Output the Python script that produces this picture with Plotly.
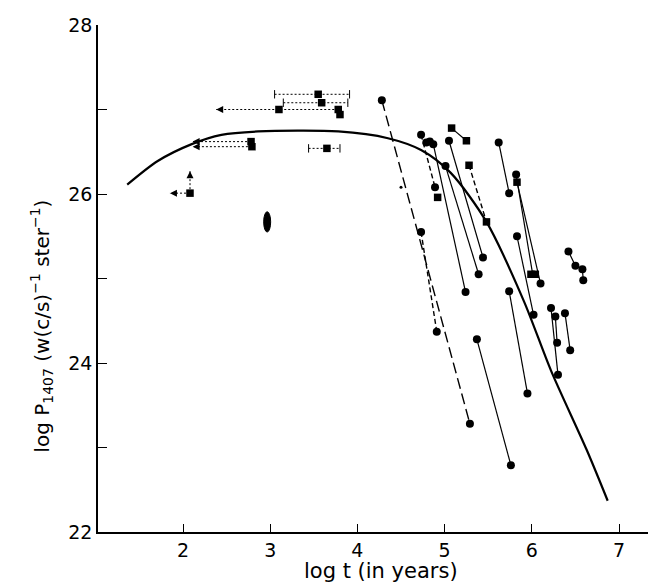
import plotly.graph_objects as go

# ---------------- data ----------------
# model curve
curve_x = [1.36, 1.71, 2.10, 2.44, 2.86, 3.78, 4.35, 4.73, 5.07, 5.48, 5.91, 6.22, 6.63, 6.87]
curve_y = [26.11, 26.39, 26.59, 26.70, 26.74, 26.74, 26.66, 26.52, 26.25, 25.67, 24.73, 23.91, 22.97, 22.37]

# filled circles
circ_x = [4.28, 4.73, 4.79, 4.83, 4.87, 5.05, 5.62, 5.01, 5.82, 5.74, 4.89, 4.73, 5.83,
          6.42, 6.50, 6.58, 6.59, 5.44, 5.39, 6.10, 5.24, 5.74, 6.02, 6.22, 6.27, 6.38,
          6.29, 6.44, 6.30, 4.91, 5.37, 5.29, 5.95, 5.76]
circ_y = [27.11, 26.70, 26.61, 26.62, 26.59, 26.63, 26.61, 26.33, 26.23, 26.01, 26.08, 25.55, 25.50,
          25.32, 25.15, 25.11, 24.98, 25.25, 25.05, 24.94, 24.84, 24.85, 24.57, 24.65, 24.55, 24.59,
          24.24, 24.15, 23.86, 24.37, 24.28, 23.28, 23.64, 22.79]

# filled squares
sq_x = [5.08, 5.25, 5.28, 5.83, 4.92, 5.48, 5.99, 6.04,
        2.08, 3.10, 3.55, 3.59, 3.78, 3.80, 3.65, 2.78, 2.79]
sq_y = [26.78, 26.63, 26.34, 26.14, 25.96, 25.67, 25.05, 25.05,
        26.01, 27.00, 27.18, 27.08, 27.00, 26.94, 26.54, 26.62, 26.56]

# solid tracks joining two estimates of the same object
solid_x = [[5.08, 5.25], [5.05, 5.44], [5.01, 5.39], [4.87, 5.24], [5.62, 5.74],
           [5.82, 6.01], [5.83, 6.10], [5.83, 6.02], [5.74, 5.95], [5.37, 5.76],
           [6.42, 6.50, 6.58, 6.59], [6.22, 6.30], [6.27, 6.29], [6.38, 6.44]]
solid_y = [[26.78, 26.63], [26.63, 25.25], [26.33, 25.05], [26.59, 24.84], [26.61, 26.01],
           [26.23, 25.05], [26.14, 24.94], [25.50, 24.57], [24.85, 23.64], [24.28, 22.79],
           [25.32, 25.15, 25.11, 24.98], [24.65, 23.86], [24.55, 24.24], [24.59, 24.15]]

# long-dashed track
longdash_x = [4.28, 5.29]
longdash_y = [27.11, 23.28]

# short-dashed tracks
dash_x = [[4.73, 4.89], [4.73, 4.91], [5.28, 5.48]]
dash_y = [[26.70, 26.08], [25.55, 24.37], [26.34, 25.67]]

# dotted age ranges with end bars
range_lo = [3.05, 3.15, 3.44]
range_hi = [3.91, 3.89, 3.80]
range_y = [27.18, 27.08, 26.54]

# dotted upper limits (arrow to the left)
lim_from = [3.78, 2.78, 2.79, 2.08]
lim_to = [2.38, 2.11, 2.11, 1.85]
lim_y = [27.00, 26.62, 26.56, 26.01]

# dotted lower limit in power (arrow up)
uplim_x = [2.08]
uplim_from = [26.01]
uplim_to = [26.27]

# small isolated dot
dot_x = [4.50]
dot_y = [26.08]

# elongated blob
blob_x = [2.925, 3.005]
blob_y = [25.55, 25.79]

x_ticks = [2, 3, 4, 5, 6, 7]
y_ticks = [22, 24, 26, 28]

# ---------------- figure ----------------
fig = go.Figure()
K = "black"

fig.add_trace(go.Scatter(x=curve_x, y=curve_y, mode="lines",
                         line=dict(color=K, width=2.2, shape="spline", smoothing=0.8)))

for xs, ys in zip(solid_x, solid_y):
    fig.add_trace(go.Scatter(x=xs, y=ys, mode="lines", line=dict(color=K, width=1.2)))

fig.add_trace(go.Scatter(x=longdash_x, y=longdash_y, mode="lines",
                         line=dict(color=K, width=1.4, dash="11px,5px")))
for xs, ys in zip(dash_x, dash_y):
    fig.add_trace(go.Scatter(x=xs, y=ys, mode="lines",
                             line=dict(color=K, width=1.4, dash="5px,3px")))

for lo, hi, yy in zip(range_lo, range_hi, range_y):
    fig.add_trace(go.Scatter(x=[lo, hi], y=[yy, yy], mode="lines+markers",
                             line=dict(color=K, width=1, dash="2px,2px"),
                             marker=dict(symbol="line-ns", size=6, color=K,
                                         line=dict(width=1, color=K))))

for a, b, yy in zip(lim_from, lim_to, lim_y):
    fig.add_trace(go.Scatter(x=[a, b], y=[yy, yy], mode="lines",
                             line=dict(color=K, width=1, dash="2px,2px")))
fig.add_trace(go.Scatter(x=lim_to, y=lim_y, mode="markers",
                         marker=dict(symbol="arrow-left", size=7, color=K)))

for xx, a, b in zip(uplim_x, uplim_from, uplim_to):
    fig.add_trace(go.Scatter(x=[xx, xx], y=[a, b], mode="lines",
                             line=dict(color=K, width=1, dash="2px,2px")))
fig.add_trace(go.Scatter(x=uplim_x, y=uplim_to, mode="markers",
                         marker=dict(symbol="arrow-up", size=7, color=K)))

fig.add_trace(go.Scatter(x=circ_x, y=circ_y, mode="markers",
                         marker=dict(symbol="circle", size=8, color=K)))
fig.add_trace(go.Scatter(x=sq_x, y=sq_y, mode="markers",
                         marker=dict(symbol="square", size=7.5, color=K)))
fig.add_trace(go.Scatter(x=dot_x, y=dot_y, mode="markers",
                         marker=dict(symbol="circle", size=3, color=K)))

fig.add_shape(type="circle", xref="x", yref="y",
              x0=blob_x[0], x1=blob_x[1], y0=blob_y[0], y1=blob_y[1],
              fillcolor=K, line=dict(color=K, width=1))

FONT = "DejaVu Sans"
annotations = [
    dict(text="log t (in years)", xref="paper", yref="paper",
         x=0.505, y=-0.077, xanchor="center", yanchor="middle",
         showarrow=False, font=dict(family=FONT, size=21, color=K)),
    dict(text="log P<sub>1407</sub> (w(c/s)<sup>−1</sup> ster<sup>−1</sup>)",
         xref="paper", yref="paper", x=-0.1, y=0.405,
         xanchor="center", yanchor="middle", textangle=-90,
         showarrow=False, font=dict(family=FONT, size=20, color=K)),
]

fig.update_layout(
    width=656, height=582,
    margin=dict(l=90, r=6, t=13, b=58),
    paper_bgcolor="white", plot_bgcolor="white",
    showlegend=False,
    annotations=annotations,
    font=dict(family=FONT, color=K),
)
fig.update_xaxes(range=[1.025, 7.447], tickvals=x_ticks, ticks="inside", ticklen=8,
                 tickwidth=1.2, tickcolor=K, showline=True, linecolor=K, linewidth=1.5,
                 showgrid=False, zeroline=False, tickfont=dict(family=FONT, size=19, color=K))
fig.update_yaxes(range=[22, 28], tickvals=y_ticks, ticks="inside",
                 ticklen=9, tickwidth=1.2, tickcolor=K, showline=True, linecolor=K,
                 linewidth=1.5, showgrid=False, zeroline=False,
                 minor=dict(dtick=1, tick0=22, ticks="inside", ticklen=9, tickwidth=1.2,
                            tickcolor=K, showgrid=False),
                 tickfont=dict(family=FONT, size=19, color=K))

fig.write_html("out.html")
